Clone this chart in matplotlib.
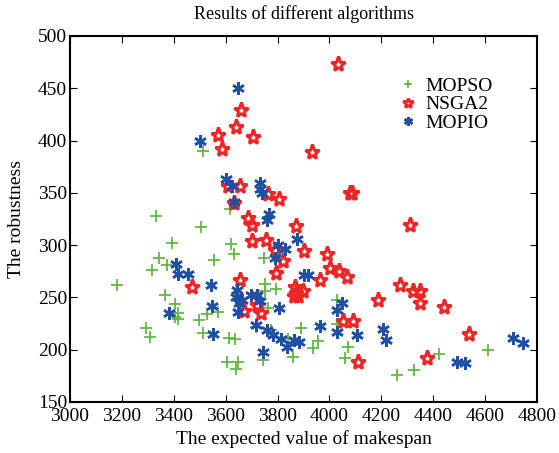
import numpy as np
import matplotlib
matplotlib.use('Agg')
import matplotlib.pyplot as plt

plt.rcParams['font.family'] = ['Liberation Serif', 'DejaVu Serif']

# MOPSO results (makespan, robustness)
mopso_x = [3182, 3293, 3308, 3315, 3330, 3344, 3366, 3375, 3394, 3403, 3418, 3405,
           3418, 3499, 3505, 3514, 3514, 3527, 3555, 3572, 3606, 3614, 3617, 3622,
           3632, 3636, 3640, 3646, 3717, 3745, 3748, 3752, 3753, 3765, 3775, 3793,
           3841, 3858, 3890, 3935, 3957, 4028, 4028, 4060, 4070, 4259, 4326, 4424, 4610]
mopso_y = [262, 221, 212, 276, 328, 288, 252, 281, 302, 244, 235, 231,
           229, 228, 317, 390, 216, 234, 286, 236, 188, 211, 335, 301,
           292, 210, 182, 188, 222, 190, 288, 256, 263, 240, 219, 258,
           210, 193, 221, 202, 208, 248, 225, 192, 203, 176, 181, 196, 200]

# NSGA2 results
nsga_x = [3469, 3569, 3584, 3610, 3633, 3640, 3655, 3655, 3658, 3671, 3687, 3700,
          3700, 3707, 3720, 3736, 3756, 3762, 3790, 3794, 3807, 3822, 3864, 3867,
          3871, 3871, 3880, 3899, 3903, 3932, 3964, 3992, 4002, 4032, 4038, 4054,
          4069, 4079, 4088, 4092, 4111, 4189, 4272, 4311, 4321, 4349, 4349, 4377,
          4443, 4539]
nsga_y = [260, 405, 392, 357, 340, 413, 357, 267, 429, 237, 326, 319,
          304, 403, 243, 235, 305, 349, 295, 273, 344, 285, 251, 260,
          318, 254, 251, 256, 294, 389, 267, 292, 278, 473, 275, 227,
          270, 350, 350, 227, 188, 248, 262, 319, 256, 256, 245, 192,
          241, 215]

# MOPIO results
mopio_x = [3383, 3407, 3418, 3454, 3501, 3544, 3546, 3550, 3600, 3623, 3633, 3640,
           3642, 3649, 3649, 3653, 3662, 3697, 3716, 3720, 3732, 3732, 3732, 3739,
           3745, 3758, 3758, 3768, 3781, 3790, 3803, 3804, 3812, 3829, 3835, 3865,
           3876, 3884, 3902, 3919, 3964, 4030, 4030, 4047, 4108, 4206, 4218, 4493,
           4523, 4706, 4747]
mopio_y = [235, 282, 272, 272, 400, 262, 242, 215, 363, 357, 341, 250,
           257, 450, 236, 245, 248, 252, 224, 252, 359, 354, 247, 350,
           198, 324, 219, 330, 214, 288, 300, 240, 210, 296, 203, 209,
           306, 207, 271, 271, 223, 217, 238, 245, 214, 220, 209, 188,
           187, 211, 206]

fig = plt.figure(figsize=(5.59, 4.53), dpi=100)
ax = fig.add_axes([70/559, 51/453, 467/559, 366/453])

ax.plot(mopso_x, mopso_y, linestyle='none', marker='+', color='#62b746',
        markersize=9, markeredgewidth=1.3, label='MOPSO')
ax.plot(nsga_x, nsga_y, linestyle='none', marker='*', color='#ee2626',
        markerfacecolor='none', markersize=11, markeredgewidth=2.2, label='NSGA2')
ax.plot(mopio_x, mopio_y, linestyle='none', marker=(6, 2, 0), color='#1f50a3',
        markersize=9, markeredgewidth=1.8, label='MOPIO')

ax.set_xlim(3000, 4800)
ax.set_ylim(150, 500)
ax.set_xticks(np.arange(3000, 4801, 200))
ax.set_yticks(np.arange(150, 501, 50))
ax.tick_params(direction='in', top=True, right=True, length=5, labelsize=14, pad=2)
ax.tick_params(axis='x', pad=4)
for s in ax.spines.values():
    s.set_linewidth(1.5)

ax.set_title('Results of different algorithms', fontsize=13, pad=12)
ax.set_xlabel('The expected value of makespan', fontsize=14, labelpad=4)
ax.set_ylabel('The robustness', fontsize=14, labelpad=9)

leg = ax.legend(loc='upper left', bbox_to_anchor=(0.665, 0.935), frameon=False,
                fontsize=14, handlelength=1.0, handletextpad=0.4, labelspacing=0.05,
                markerscale=0.7)

fig.savefig('out.png', dpi=100)
